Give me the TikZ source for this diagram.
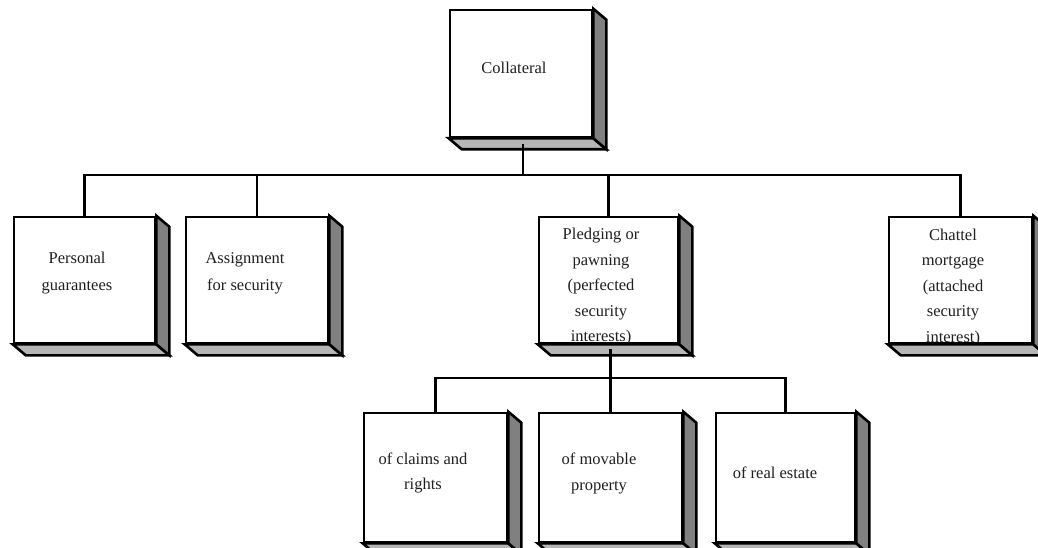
\documentclass[tikz,border=0pt]{standalone}
\usepackage{fontspec}
\setmainfont{Liberation Serif}
\usetikzlibrary{calc}
\definecolor{sidegray}{RGB}{128,128,128}
\definecolor{botgray}{RGB}{182,182,182}
\newcommand\threedfaces[1]{%
  \filldraw[face,fill=botgray] (#1.south west) -- ++(13,11) -- ($(#1.south east)+(13,11)$) -- (#1.south east) -- cycle;
  \filldraw[face,fill=sidegray] (#1.north east) -- ++(13,11) -- ($(#1.south east)+(13,11)$) -- (#1.south east) -- cycle;}
\begin{document}
\begin{tikzpicture}[x=1pt,y=-1pt,
  box/.style={draw=black, fill=white, line width=2.6pt, inner sep=0pt},
  lbl/.style={font=\fontsize{16.5}{25.5}\selectfont, align=center, inner sep=0pt, text=black!88},
  lblw/.style={lbl, font=\fontsize{16.5}{27}\selectfont},
  conn/.style={draw=black, line width=2.6pt},
  face/.style={draw=black, line width=2.6pt, line join=miter}]
\useasboundingbox (0,0) rectangle (1038,548);
% front faces
\node[box, minimum width=142pt, minimum height=127pt] (col) at (521,73.5) {};
\node[box, minimum width=141pt, minimum height=126pt] (per) at (84.5,280) {};
\node[box, minimum width=142pt, minimum height=126pt] (ass) at (257,280) {};
\node[box, minimum width=139pt, minimum height=126pt] (ple) at (608.5,280) {};
\node[box, minimum width=143pt, minimum height=126pt] (cha) at (960.5,280) {};
\node[box, minimum width=143pt, minimum height=129pt] (clm) at (435.5,477.5) {};
\node[box, minimum width=143pt, minimum height=129pt] (mov) at (610.5,477.5) {};
\node[box, minimum width=139pt, minimum height=129pt] (rea) at (785.5,477.5) {};
% texts
\node[lbl] (tcol) at (514,68) {Collateral};
\node[lblw] (tper) at (77,273.5) {Personal\\guarantees};
\node[lblw] (tass) at (245,273.5) {Assignment\\for security};
\node[lbl] (tple) at (601,287) {Pledging or\\pawning\\(perfected\\security\\interests)};
\node[lbl] (tcha) at (953,287.5) {Chattel\\mortgage\\(attached\\security\\interest)};
\node[lbl] (tclm) at (423,473) {of claims and\\rights};
\node[lbl] (tmov) at (599,473.5) {of movable\\property};
\node[lbl] (trea) at (775,473) {of real estate};
% 3D faces
\threedfaces{col}
\threedfaces{per}
\threedfaces{ass}
\threedfaces{ple}
\threedfaces{cha}
\threedfaces{clm}
\threedfaces{mov}
\threedfaces{rea}
% connectors
\coordinate (bus) at (0,175);
\coordinate (bus2) at (0,378);
\draw[conn] ($(col.south)+(2,6)$) coordinate (c0) -- (c0 |- bus);
\draw[conn] (per.north) -- (per.north |- bus) -- (cha.north |- bus) -- (cha.north);
\draw[conn] (ass.north) -- (ass.north |- bus);
\draw[conn] (ple.north) -- (ple.north |- bus);
\draw[conn] ($(ple.south)+(2,5)$) coordinate (p0) -- (p0 |- mov.north);
\draw[conn] (clm.north) -- (clm.north |- bus2) -- (rea.north |- bus2) -- (rea.north);
\end{tikzpicture}
\end{document}
